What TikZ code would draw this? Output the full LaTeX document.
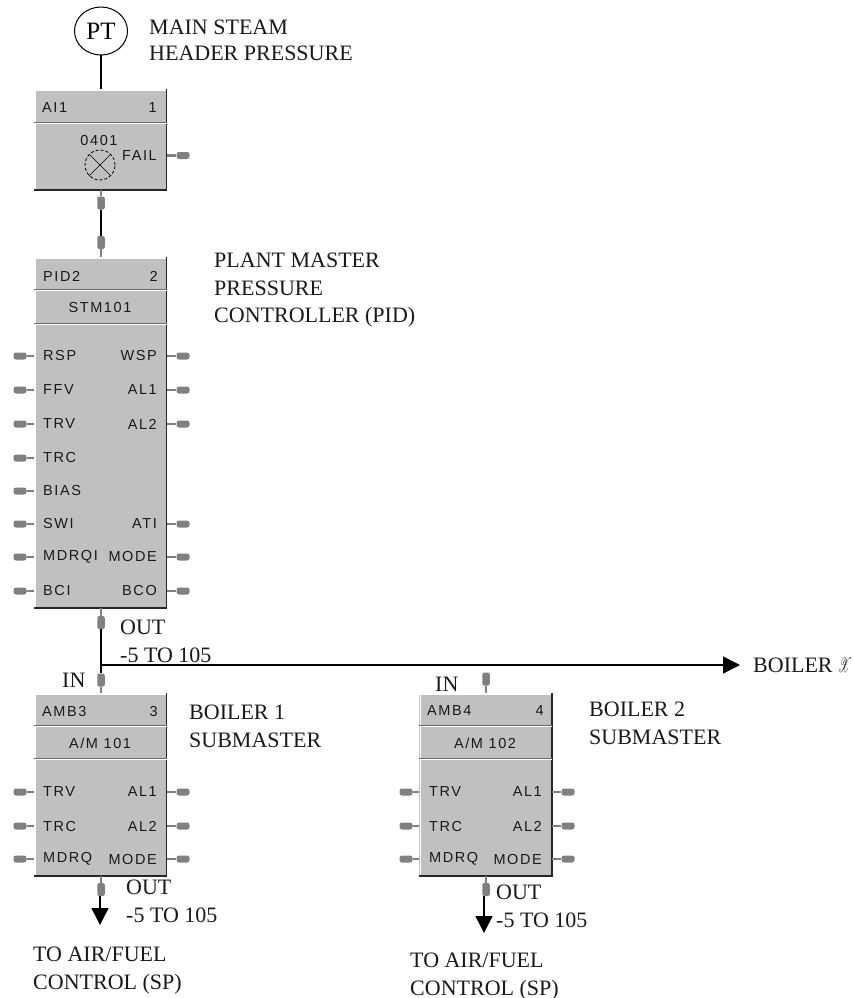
\documentclass[tikz,border=0pt]{standalone}
\usepackage{fontspec}
\usepackage{mathrsfs}
\setmainfont{Liberation Serif}
\newfontfamily\blockfont[LetterSpace=11]{Liberation Sans}
\usetikzlibrary{arrows.meta,calc,positioning,shapes.geometric}
\definecolor{panel}{HTML}{C0C0C0}
\definecolor{pingray}{HTML}{808080}
\definecolor{ruledark}{HTML}{6A6A6A}
% pins: block, block edge x, text, row y
\newcommand{\lpin}[4]{
  \node[lbl, anchor=west] (#1#3) at (#2+10,#4) {#3};
  \node[pinh] (#1#3p) at (#2-13,#4) {};
  \draw[pinline] (#1#3p) -- (#1.west |- #1#3p);
}
\newcommand{\rpin}[4]{
  \node[lbl, anchor=east] (#1#3) at (#2-10,#4) {#3};
  \node[pinh] (#1#3p) at (#2+16,#4) {};
  \draw[pinline] (#1#3p) -- (#1.east |- #1#3p);
}
\newcommand{\blockedge}[1]{
  \draw[lit] ([xshift=1.5pt]#1.south west) -- ([xshift=1.5pt]#1.north west);
  \draw[lit] ([yshift=-1pt]#1.north west) -- ([yshift=-1pt]#1.north east);
  \draw[black!85, line width=1.6pt] (#1.north east) -- (#1.south east);
  \draw[black!85, line width=2.6pt] ([xshift=.8pt]#1.south east) -- (#1.south west);
}
\newcommand{\blockrule}[2]{
  \draw[ruledark, line width=1pt] (#1.west |- 0,#2) -- (#1.east |- 0,#2);
  \draw[white, line width=1pt] (#1.west |- 0,#2+1.6) -- (#1.east |- 0,#2+1.6);
}
\begin{document}
\begin{tikzpicture}[
  x=1pt, y=-1pt,
  block/.style={fill=panel, minimum width=133pt, inner sep=0pt, outer sep=0pt},
  lit/.style={white, line width=1.4pt},
  lbl/.style={font=\blockfont\fontsize{14.5}{16}\selectfont, text=black!90, inner sep=0pt},
  txt/.style={font=\fontsize{22}{27.3}\selectfont, align=left, anchor=north west, inner sep=0pt, text=black!90},
  pinh/.style={fill=pingray, rounded corners=2.5pt, minimum width=13pt, minimum height=7pt, inner sep=0pt},
  pinv/.style={fill=pingray, rounded corners=2pt, minimum width=7.5pt, minimum height=13pt, inner sep=0pt},
  pinline/.style={pingray, line width=2.2pt},
  wire/.style={black, line width=1.4pt},
  arr/.style={-{Triangle[length=17pt,width=17pt]}, black, line width=1.4pt}
]
\useasboundingbox (0,0) rectangle (853,998);

\node[draw, ellipse, line width=1pt, minimum width=53pt, minimum height=48pt, inner sep=0pt, font=\fontsize{25}{27}\selectfont] (pt) at (101,31) {PT};
\node[txt, font=\fontsize{22}{26.5}\selectfont] (ptlbl) at (149,19.5) {MAIN STEAM\\HEADER PRESSURE};

% blocks
\node[block, minimum height=101pt] (ai) at (100,139.5) {};
\node[block, minimum height=351pt] (pid) at (100,432.5) {};
\node[block, minimum height=183pt] (ambc) at (100,784.5) {};
\node[block, minimum height=183pt] (ambd) at (485.5,784.5) {};
\foreach \blk in {ai,pid,ambc,ambd}{\blockedge{\blk}}
\blockrule{ai}{122}
\blockrule{pid}{289}
\blockrule{pid}{323}
\blockrule{ambc}{725}
\blockrule{ambc}{758}
\blockrule{ambd}{725}
\blockrule{ambd}{758}

% AI1
\node[lbl, anchor=west] (ainame) at (42,108) {AI1};
\node[lbl, anchor=east] (ainum) at (157,108) {1};
\node[lbl] (aicode) at (99,141) {0401};
\node[draw, circle, densely dashed, line width=0.8pt, minimum size=30pt, inner sep=0pt] (aiind) at (100,165) {};
\draw[line width=0.7pt] (aiind.north west) -- (aiind.south east);
\draw[line width=0.7pt] (aiind.north east) -- (aiind.south west);
\rpin{ai}{167}{FAIL}{155.5}

% PID2
\node[lbl, anchor=west] (pidname) at (43,276) {PID2};
\node[lbl, anchor=east] (pidnum) at (158,276) {2};
\node[lbl] (pidtag) at (100,308) {STM101};
\foreach \nm/\yy in {RSP/356,FFV/390,TRV/424,TRC/458,BIAS/491,SWI/524,MDRQI/557,BCI/591}{\lpin{pid}{33}{\nm}{\yy}}
\foreach \nm/\yy in {WSP/356,AL1/390,AL2/424,ATI/524,MODE/557,BCO/591}{\rpin{pid}{167}{\nm}{\yy}}
\node[txt] (pidlbl) at (214,253) {PLANT MASTER\\PRESSURE\\CONTROLLER (PID)};

% AMB3
\node[lbl, anchor=west] (ambcname) at (42,711) {AMB3};
\node[lbl, anchor=east] (ambcnum) at (158,711) {3};
\node[lbl] (ambctag) at (100,743) {A/M 101};
\foreach \nm/\yy in {TRV/792,TRC/826,MDRQ/859}{\lpin{ambc}{33}{\nm}{\yy}}
\foreach \nm/\yy in {AL1/792,AL2/826,MODE/859}{\rpin{ambc}{167}{\nm}{\yy}}
\node[txt] (ambclbl) at (189,705) {BOILER 1\\SUBMASTER};

% AMB4
\node[lbl, anchor=west] (ambdname) at (427,711) {AMB4};
\node[lbl, anchor=east] (ambdnum) at (544,711) {4};
\node[lbl] (ambdtag) at (485,743) {A/M 102};
\foreach \nm/\yy in {TRV/792,TRC/826,MDRQ/859}{\lpin{ambd}{419}{\nm}{\yy}}
\foreach \nm/\yy in {AL1/792,AL2/826,MODE/859}{\rpin{ambd}{552}{\nm}{\yy}}
\node[txt] (ambdlbl) at (589,702) {BOILER 2\\SUBMASTER};

% vertical pins
\node[pinv] (aiout) at (101,203) {};
\node[pinv] (pidin) at (101,242.5) {};
\node[pinv] (pidout) at (101,622.5) {};
\node[pinv] (ambcin) at (101,680) {};
\node[pinv] (ambcout) at (101,889.5) {};
\node[pinv] (ambdin) at (486,679) {};
\node[pinv] (ambdout) at (486,889.5) {};
\draw[pinline] (aiout) -- (ai.south -| aiout);
\draw[pinline] (pidin) -- (pid.north -| pidin);
\draw[pinline] (pidout) -- (pid.south -| pidout);
\draw[pinline] (ambcin) -- (ambc.north -| ambcin);
\draw[pinline] (ambcout) -- (ambc.south -| ambcout);
\draw[pinline] (ambdin) -- (ambd.north -| ambdin);
\draw[pinline] (ambdout) -- (ambd.south -| ambdout);

% connectors
\draw[wire] (pt) -- (ai.north -| pt);
\draw[wire] (aiout) -- (pidin);
\draw[wire] (pidout) -- (ambcin);
\coordinate (tap) at (101,665);
\node[txt, anchor=west] (boilerx) at (753,665) {BOILER \scalebox{0.55}[1]{$\mathscr{X}$}};
\coordinate (boilerend) at (740,665);
\draw[arr] (tap) -- (boilerend);
\coordinate (ambcend) at (100,925);
\coordinate (ambdend) at (484,933);
\draw[arr] (ambcout.south -| ambcend) -- (ambcend);
\draw[arr] (ambdout.south -| ambdend) -- (ambdend);

% signal text
\node[txt] (pidouttxt) at (120,620) {OUT\\-5 TO 105};
\node[txt] (ambcintxt) at (62,673) {IN};
\node[txt] (ambdintxt) at (435,677) {IN};
\node[txt] (ambcouttxt) at (126,880) {OUT\\-5 TO 105};
\node[txt] (ambdouttxt) at (496,885) {OUT\\-5 TO 105};
\node[txt] (ambcto) at (33,947) {TO AIR/FUEL\\CONTROL (SP)};
\node[txt] (ambdto) at (410,953) {TO AIR/FUEL\\CONTROL (SP)};
\end{tikzpicture}
\end{document}
